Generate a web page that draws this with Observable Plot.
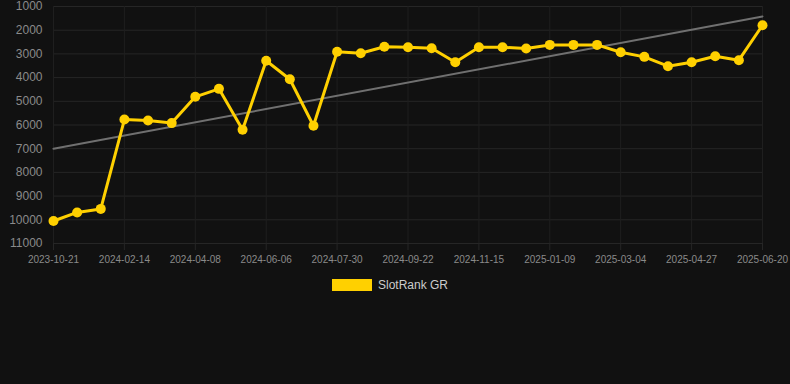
<!DOCTYPE html>
<html>
<head>
<meta charset="utf-8">
<script src="https://cdn.jsdelivr.net/npm/d3@7"></script>
<script src="https://cdn.jsdelivr.net/npm/@observablehq/plot@0.6"></script>
<style>
  html, body { margin: 0; padding: 0; background: #111111; width: 790px; height: 384px; overflow: hidden; }
  #chart { width: 790px; }
  .legend { display: flex; justify-content: center; align-items: center; margin-top: 8px; font-family: "Liberation Sans", Arial, sans-serif; font-size: 12px; color: #cccccc; padding-right: 10px; }
  .legend .sw { width: 40px; height: 12px; background: #ffd000; margin-right: 6px; }
</style>
</head>
<body>
<div id="chart"></div>
<script>
const dates = [
  "2023-10-21", "2023-11-28", "2024-01-06", "2024-02-14", "2024-03-03", "2024-03-21",
  "2024-04-08", "2024-04-28", "2024-05-17", "2024-06-06", "2024-06-24", "2024-07-12",
  "2024-07-30", "2024-08-17", "2024-09-04", "2024-09-22", "2024-10-10", "2024-10-28",
  "2024-11-15", "2024-12-03", "2024-12-21", "2025-01-09", "2025-01-27", "2025-02-14",
  "2025-03-04", "2025-03-22", "2025-04-09", "2025-04-27", "2025-05-15", "2025-06-02",
  "2025-06-20"
];
const ranks = [
  10050, 9690, 9540, 5770, 5810, 5920,
  4810, 4475, 6200, 3290, 4070, 6030,
  2910, 2970, 2700, 2720, 2760, 3350,
  2720, 2720, 2770, 2620, 2620, 2620,
  2930, 3125, 3520, 3350, 3100, 3265,
  1790
];
const tickLabels = ["2023-10-21", "2024-02-14", "2024-04-08", "2024-06-06", "2024-07-30",
  "2024-09-22", "2024-11-15", "2025-01-09", "2025-03-04", "2025-04-27", "2025-06-20"];
const yTicks = [1000, 2000, 3000, 4000, 5000, 6000, 7000, 8000, 9000, 10000, 11000];
const trendDates = ["2023-10-21", "2025-06-20"];
const trendValues = [7000, 1420];
const seriesName = "SlotRank GR";

const idx = d => dates.indexOf(d);
const data = dates.map((d, i) => ({i: idx(d), rank: ranks[i]}));
const trend = trendDates.map((d, i) => ({i: idx(d), rank: trendValues[i]}));
const tickIdx = tickLabels.map(idx);

const gold = "#ffd000";
const chart = Plot.plot({
  width: 790,
  height: 270,
  marginLeft: 53,
  marginRight: 28,
  marginTop: 6,
  marginBottom: 27,
  style: {background: "#111111", fontFamily: "Liberation Sans, Arial, sans-serif"},
  x: {type: "linear", domain: [0, dates.length - 1]},
  y: {domain: [1000, 11000], reverse: true},
  marks: [
    Plot.ruleY(yTicks, {stroke: "#262626", strokeWidth: 1}),
    Plot.ruleX(tickIdx, {y1: 1000, y2: 11000, stroke: "#1f1f1f", strokeWidth: 1}),
    Plot.axisY({ticks: yTicks, tickFormat: d => String(d), tickSize: 0, tickPadding: 11, fontSize: 12, fill: "#8a8a8a", label: null}),
    Plot.axisX({ticks: tickIdx, tickFormat: i => dates[i], tickSize: 7, tickPadding: 5, fontSize: 10, stroke: "#262626", fill: "#8a8a8a", label: null}),
    Plot.line(trend, {x: "i", y: "rank", stroke: "#707070", strokeWidth: 2}),
    Plot.line(data, {x: "i", y: "rank", stroke: gold, strokeWidth: 3}),
    Plot.dot(data, {x: "i", y: "rank", r: 5, fill: gold, stroke: "none"})
  ]
});
document.getElementById("chart").appendChild(chart);
const lg = document.createElement("div");
lg.className = "legend";
lg.innerHTML = `<div class="sw"></div><span>${seriesName}</span>`;
document.getElementById("chart").appendChild(lg);
</script>
</body>
</html>
